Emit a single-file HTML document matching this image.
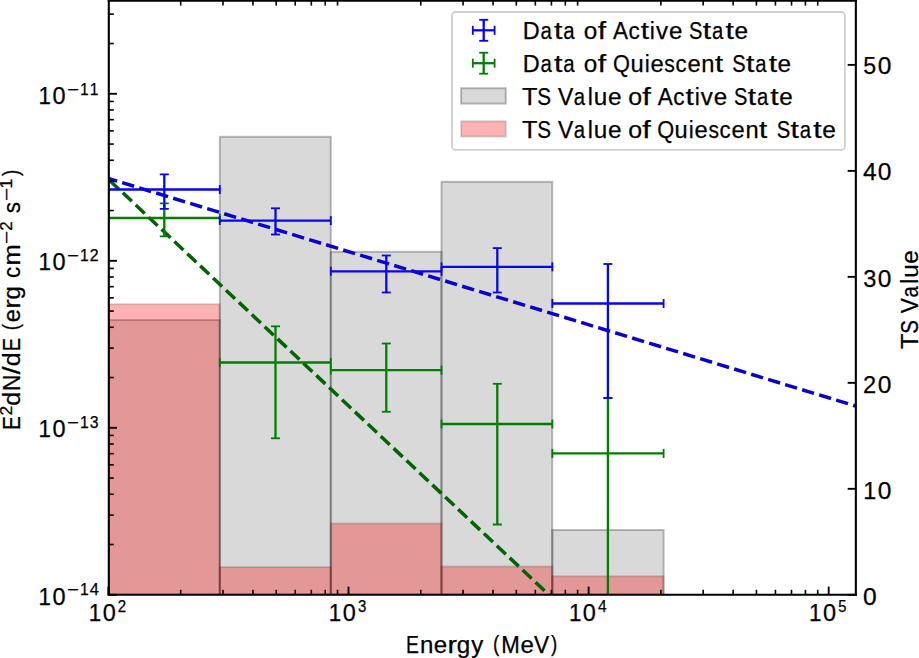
<!DOCTYPE html>
<html><head><meta charset="utf-8"><title>SED and TS values</title>
<style>html,body{margin:0;padding:0;background:#fff;}svg{display:block;}text{font-family:"Liberation Sans", sans-serif;fill:#000;font-kerning:none;stroke:#000;stroke-width:0.25px;}</style></head><body>
<svg width="919" height="658" viewBox="0 0 919 658">
<rect x="0" y="0" width="919" height="658" fill="#ffffff"/>
<defs><clipPath id="ax"><rect x="108.80" y="0" width="747.05" height="594.80"/></clipPath></defs>
<g clip-path="url(#ax)">
<rect x="108.60" y="320.00" width="111.20" height="274.80" fill="rgb(128,128,128)" fill-opacity="0.3" stroke="#000" stroke-opacity="0.25" stroke-width="2.0"/>
<rect x="219.80" y="136.80" width="111.00" height="458.00" fill="rgb(128,128,128)" fill-opacity="0.3" stroke="#000" stroke-opacity="0.25" stroke-width="2.0"/>
<rect x="330.80" y="251.80" width="110.70" height="343.00" fill="rgb(128,128,128)" fill-opacity="0.3" stroke="#000" stroke-opacity="0.25" stroke-width="2.0"/>
<rect x="441.50" y="181.80" width="110.80" height="413.00" fill="rgb(128,128,128)" fill-opacity="0.3" stroke="#000" stroke-opacity="0.25" stroke-width="2.0"/>
<rect x="552.30" y="530.00" width="111.30" height="64.80" fill="rgb(128,128,128)" fill-opacity="0.3" stroke="#000" stroke-opacity="0.25" stroke-width="2.0"/>
<rect x="108.60" y="304.20" width="111.20" height="290.60" fill="rgb(255,0,0)" fill-opacity="0.3" stroke="#000" stroke-opacity="0.15" stroke-width="2.0"/>
<rect x="219.80" y="567.00" width="111.00" height="27.80" fill="rgb(255,0,0)" fill-opacity="0.3" stroke="#000" stroke-opacity="0.15" stroke-width="2.0"/>
<rect x="330.80" y="523.50" width="110.70" height="71.30" fill="rgb(255,0,0)" fill-opacity="0.3" stroke="#000" stroke-opacity="0.15" stroke-width="2.0"/>
<rect x="441.50" y="566.50" width="110.80" height="28.30" fill="rgb(255,0,0)" fill-opacity="0.3" stroke="#000" stroke-opacity="0.15" stroke-width="2.0"/>
<rect x="552.30" y="576.20" width="111.30" height="18.60" fill="rgb(255,0,0)" fill-opacity="0.3" stroke="#000" stroke-opacity="0.15" stroke-width="2.0"/>
</g>
<g clip-path="url(#ax)" fill="none">
<line x1="105.20" y1="177.50" x2="870.00" y2="410.39" stroke="#0a00cd" stroke-width="3.50" stroke-dasharray="12.4 5.37"/>
<line x1="109.00" y1="179.79" x2="565.00" y2="610.02" stroke="#006400" stroke-width="3.50" stroke-dasharray="12.38 5.35" stroke-dashoffset="-1.3"/>
</g>
<g clip-path="url(#ax)">
<g stroke="#007e00" fill="none" stroke-linecap="butt"><line x1="108.60" y1="218.00" x2="219.80" y2="218.00" stroke-width="2.30"/><line x1="164.30" y1="203.30" x2="164.30" y2="236.30" stroke-width="2.30"/><line x1="108.60" y1="213.50" x2="108.60" y2="222.50" stroke-width="1.80"/><line x1="219.80" y1="213.50" x2="219.80" y2="222.50" stroke-width="1.80"/><line x1="159.80" y1="203.30" x2="168.80" y2="203.30" stroke-width="1.80"/><line x1="159.80" y1="236.30" x2="168.80" y2="236.30" stroke-width="1.80"/></g>
<g stroke="#007e00" fill="none" stroke-linecap="butt"><line x1="219.80" y1="362.50" x2="330.80" y2="362.50" stroke-width="2.30"/><line x1="275.50" y1="326.30" x2="275.50" y2="438.30" stroke-width="2.30"/><line x1="219.80" y1="358.00" x2="219.80" y2="367.00" stroke-width="1.80"/><line x1="330.80" y1="358.00" x2="330.80" y2="367.00" stroke-width="1.80"/><line x1="271.00" y1="326.30" x2="280.00" y2="326.30" stroke-width="1.80"/><line x1="271.00" y1="438.30" x2="280.00" y2="438.30" stroke-width="1.80"/></g>
<g stroke="#007e00" fill="none" stroke-linecap="butt"><line x1="330.80" y1="370.20" x2="441.50" y2="370.20" stroke-width="2.30"/><line x1="386.30" y1="343.50" x2="386.30" y2="411.80" stroke-width="2.30"/><line x1="330.80" y1="365.70" x2="330.80" y2="374.70" stroke-width="1.80"/><line x1="441.50" y1="365.70" x2="441.50" y2="374.70" stroke-width="1.80"/><line x1="381.80" y1="343.50" x2="390.80" y2="343.50" stroke-width="1.80"/><line x1="381.80" y1="411.80" x2="390.80" y2="411.80" stroke-width="1.80"/></g>
<g stroke="#007e00" fill="none" stroke-linecap="butt"><line x1="441.50" y1="424.00" x2="552.30" y2="424.00" stroke-width="2.30"/><line x1="497.30" y1="383.80" x2="497.30" y2="524.50" stroke-width="2.30"/><line x1="441.50" y1="419.50" x2="441.50" y2="428.50" stroke-width="1.80"/><line x1="552.30" y1="419.50" x2="552.30" y2="428.50" stroke-width="1.80"/><line x1="492.80" y1="383.80" x2="501.80" y2="383.80" stroke-width="1.80"/><line x1="492.80" y1="524.50" x2="501.80" y2="524.50" stroke-width="1.80"/></g>
<g stroke="#007e00" fill="none" stroke-linecap="butt"><line x1="552.30" y1="453.40" x2="663.60" y2="453.40" stroke-width="2.30"/><line x1="607.90" y1="398.00" x2="607.90" y2="640.00" stroke-width="2.30"/><line x1="552.30" y1="448.90" x2="552.30" y2="457.90" stroke-width="1.80"/><line x1="663.60" y1="448.90" x2="663.60" y2="457.90" stroke-width="1.80"/><line x1="603.40" y1="398.00" x2="612.40" y2="398.00" stroke-width="1.80"/><line x1="603.40" y1="640.00" x2="612.40" y2="640.00" stroke-width="1.80"/></g>
<g stroke="#0606f2" fill="none" stroke-linecap="butt"><line x1="108.60" y1="189.50" x2="219.80" y2="189.50" stroke-width="2.30"/><line x1="164.30" y1="174.30" x2="164.30" y2="208.80" stroke-width="2.30"/><line x1="108.60" y1="185.00" x2="108.60" y2="194.00" stroke-width="1.80"/><line x1="219.80" y1="185.00" x2="219.80" y2="194.00" stroke-width="1.80"/><line x1="159.80" y1="174.30" x2="168.80" y2="174.30" stroke-width="1.80"/><line x1="159.80" y1="208.80" x2="168.80" y2="208.80" stroke-width="1.80"/></g>
<g stroke="#0606f2" fill="none" stroke-linecap="butt"><line x1="219.80" y1="220.60" x2="330.80" y2="220.60" stroke-width="2.30"/><line x1="275.50" y1="208.30" x2="275.50" y2="234.50" stroke-width="2.30"/><line x1="219.80" y1="216.10" x2="219.80" y2="225.10" stroke-width="1.80"/><line x1="330.80" y1="216.10" x2="330.80" y2="225.10" stroke-width="1.80"/><line x1="271.00" y1="208.30" x2="280.00" y2="208.30" stroke-width="1.80"/><line x1="271.00" y1="234.50" x2="280.00" y2="234.50" stroke-width="1.80"/></g>
<g stroke="#0606f2" fill="none" stroke-linecap="butt"><line x1="330.80" y1="271.30" x2="441.50" y2="271.30" stroke-width="2.30"/><line x1="386.30" y1="255.50" x2="386.30" y2="292.50" stroke-width="2.30"/><line x1="330.80" y1="266.80" x2="330.80" y2="275.80" stroke-width="1.80"/><line x1="441.50" y1="266.80" x2="441.50" y2="275.80" stroke-width="1.80"/><line x1="381.80" y1="255.50" x2="390.80" y2="255.50" stroke-width="1.80"/><line x1="381.80" y1="292.50" x2="390.80" y2="292.50" stroke-width="1.80"/></g>
<g stroke="#0606f2" fill="none" stroke-linecap="butt"><line x1="441.50" y1="266.80" x2="552.30" y2="266.80" stroke-width="2.30"/><line x1="497.30" y1="248.10" x2="497.30" y2="292.50" stroke-width="2.30"/><line x1="441.50" y1="262.30" x2="441.50" y2="271.30" stroke-width="1.80"/><line x1="552.30" y1="262.30" x2="552.30" y2="271.30" stroke-width="1.80"/><line x1="492.80" y1="248.10" x2="501.80" y2="248.10" stroke-width="1.80"/><line x1="492.80" y1="292.50" x2="501.80" y2="292.50" stroke-width="1.80"/></g>
<g stroke="#0606f2" fill="none" stroke-linecap="butt"><line x1="552.30" y1="303.50" x2="663.60" y2="303.50" stroke-width="2.30"/><line x1="607.90" y1="264.00" x2="607.90" y2="398.00" stroke-width="2.30"/><line x1="552.30" y1="299.00" x2="552.30" y2="308.00" stroke-width="1.80"/><line x1="663.60" y1="299.00" x2="663.60" y2="308.00" stroke-width="1.80"/><line x1="603.40" y1="264.00" x2="612.40" y2="264.00" stroke-width="1.80"/><line x1="603.40" y1="398.00" x2="612.40" y2="398.00" stroke-width="1.80"/></g>
</g>
<g stroke="#000" fill="none">
<line x1="108.40" y1="594.80" x2="108.40" y2="586.60" stroke-width="1.90"/>
<line x1="180.68" y1="594.80" x2="180.68" y2="589.80" stroke-width="1.60"/>
<line x1="180.68" y1="0.60" x2="180.68" y2="5.60" stroke-width="1.60"/>
<line x1="222.96" y1="594.80" x2="222.96" y2="589.80" stroke-width="1.60"/>
<line x1="222.96" y1="0.60" x2="222.96" y2="5.60" stroke-width="1.60"/>
<line x1="252.95" y1="594.80" x2="252.95" y2="589.80" stroke-width="1.60"/>
<line x1="252.95" y1="0.60" x2="252.95" y2="5.60" stroke-width="1.60"/>
<line x1="276.22" y1="594.80" x2="276.22" y2="589.80" stroke-width="1.60"/>
<line x1="276.22" y1="0.60" x2="276.22" y2="5.60" stroke-width="1.60"/>
<line x1="295.23" y1="594.80" x2="295.23" y2="589.80" stroke-width="1.60"/>
<line x1="295.23" y1="0.60" x2="295.23" y2="5.60" stroke-width="1.60"/>
<line x1="311.31" y1="594.80" x2="311.31" y2="589.80" stroke-width="1.60"/>
<line x1="311.31" y1="0.60" x2="311.31" y2="5.60" stroke-width="1.60"/>
<line x1="325.23" y1="594.80" x2="325.23" y2="589.80" stroke-width="1.60"/>
<line x1="325.23" y1="0.60" x2="325.23" y2="5.60" stroke-width="1.60"/>
<line x1="337.51" y1="594.80" x2="337.51" y2="589.80" stroke-width="1.60"/>
<line x1="337.51" y1="0.60" x2="337.51" y2="5.60" stroke-width="1.60"/>
<line x1="348.50" y1="594.80" x2="348.50" y2="586.60" stroke-width="1.90"/>
<line x1="420.78" y1="594.80" x2="420.78" y2="589.80" stroke-width="1.60"/>
<line x1="420.78" y1="0.60" x2="420.78" y2="5.60" stroke-width="1.60"/>
<line x1="463.06" y1="594.80" x2="463.06" y2="589.80" stroke-width="1.60"/>
<line x1="463.06" y1="0.60" x2="463.06" y2="5.60" stroke-width="1.60"/>
<line x1="493.05" y1="594.80" x2="493.05" y2="589.80" stroke-width="1.60"/>
<line x1="493.05" y1="0.60" x2="493.05" y2="5.60" stroke-width="1.60"/>
<line x1="516.32" y1="594.80" x2="516.32" y2="589.80" stroke-width="1.60"/>
<line x1="516.32" y1="0.60" x2="516.32" y2="5.60" stroke-width="1.60"/>
<line x1="535.33" y1="594.80" x2="535.33" y2="589.80" stroke-width="1.60"/>
<line x1="535.33" y1="0.60" x2="535.33" y2="5.60" stroke-width="1.60"/>
<line x1="551.41" y1="594.80" x2="551.41" y2="589.80" stroke-width="1.60"/>
<line x1="551.41" y1="0.60" x2="551.41" y2="5.60" stroke-width="1.60"/>
<line x1="565.33" y1="594.80" x2="565.33" y2="589.80" stroke-width="1.60"/>
<line x1="565.33" y1="0.60" x2="565.33" y2="5.60" stroke-width="1.60"/>
<line x1="577.61" y1="594.80" x2="577.61" y2="589.80" stroke-width="1.60"/>
<line x1="577.61" y1="0.60" x2="577.61" y2="5.60" stroke-width="1.60"/>
<line x1="588.60" y1="594.80" x2="588.60" y2="586.60" stroke-width="1.90"/>
<line x1="660.88" y1="594.80" x2="660.88" y2="589.80" stroke-width="1.60"/>
<line x1="660.88" y1="0.60" x2="660.88" y2="5.60" stroke-width="1.60"/>
<line x1="703.16" y1="594.80" x2="703.16" y2="589.80" stroke-width="1.60"/>
<line x1="703.16" y1="0.60" x2="703.16" y2="5.60" stroke-width="1.60"/>
<line x1="733.15" y1="594.80" x2="733.15" y2="589.80" stroke-width="1.60"/>
<line x1="733.15" y1="0.60" x2="733.15" y2="5.60" stroke-width="1.60"/>
<line x1="756.42" y1="594.80" x2="756.42" y2="589.80" stroke-width="1.60"/>
<line x1="756.42" y1="0.60" x2="756.42" y2="5.60" stroke-width="1.60"/>
<line x1="775.43" y1="594.80" x2="775.43" y2="589.80" stroke-width="1.60"/>
<line x1="775.43" y1="0.60" x2="775.43" y2="5.60" stroke-width="1.60"/>
<line x1="791.51" y1="594.80" x2="791.51" y2="589.80" stroke-width="1.60"/>
<line x1="791.51" y1="0.60" x2="791.51" y2="5.60" stroke-width="1.60"/>
<line x1="805.43" y1="594.80" x2="805.43" y2="589.80" stroke-width="1.60"/>
<line x1="805.43" y1="0.60" x2="805.43" y2="5.60" stroke-width="1.60"/>
<line x1="817.71" y1="594.80" x2="817.71" y2="589.80" stroke-width="1.60"/>
<line x1="817.71" y1="0.60" x2="817.71" y2="5.60" stroke-width="1.60"/>
<line x1="828.70" y1="594.80" x2="828.70" y2="586.60" stroke-width="1.90"/>
<line x1="108.80" y1="594.80" x2="117.00" y2="594.80" stroke-width="1.90"/>
<line x1="108.80" y1="544.53" x2="113.80" y2="544.53" stroke-width="1.60"/>
<line x1="108.80" y1="515.12" x2="113.80" y2="515.12" stroke-width="1.60"/>
<line x1="108.80" y1="494.26" x2="113.80" y2="494.26" stroke-width="1.60"/>
<line x1="108.80" y1="478.07" x2="113.80" y2="478.07" stroke-width="1.60"/>
<line x1="108.80" y1="464.85" x2="113.80" y2="464.85" stroke-width="1.60"/>
<line x1="108.80" y1="453.67" x2="113.80" y2="453.67" stroke-width="1.60"/>
<line x1="108.80" y1="443.98" x2="113.80" y2="443.98" stroke-width="1.60"/>
<line x1="108.80" y1="435.44" x2="113.80" y2="435.44" stroke-width="1.60"/>
<line x1="108.80" y1="427.80" x2="117.00" y2="427.80" stroke-width="1.90"/>
<line x1="108.80" y1="377.53" x2="113.80" y2="377.53" stroke-width="1.60"/>
<line x1="108.80" y1="348.12" x2="113.80" y2="348.12" stroke-width="1.60"/>
<line x1="108.80" y1="327.26" x2="113.80" y2="327.26" stroke-width="1.60"/>
<line x1="108.80" y1="311.07" x2="113.80" y2="311.07" stroke-width="1.60"/>
<line x1="108.80" y1="297.85" x2="113.80" y2="297.85" stroke-width="1.60"/>
<line x1="108.80" y1="286.67" x2="113.80" y2="286.67" stroke-width="1.60"/>
<line x1="108.80" y1="276.98" x2="113.80" y2="276.98" stroke-width="1.60"/>
<line x1="108.80" y1="268.44" x2="113.80" y2="268.44" stroke-width="1.60"/>
<line x1="108.80" y1="260.80" x2="117.00" y2="260.80" stroke-width="1.90"/>
<line x1="108.80" y1="210.53" x2="113.80" y2="210.53" stroke-width="1.60"/>
<line x1="108.80" y1="181.12" x2="113.80" y2="181.12" stroke-width="1.60"/>
<line x1="108.80" y1="160.26" x2="113.80" y2="160.26" stroke-width="1.60"/>
<line x1="108.80" y1="144.07" x2="113.80" y2="144.07" stroke-width="1.60"/>
<line x1="108.80" y1="130.85" x2="113.80" y2="130.85" stroke-width="1.60"/>
<line x1="108.80" y1="119.67" x2="113.80" y2="119.67" stroke-width="1.60"/>
<line x1="108.80" y1="109.98" x2="113.80" y2="109.98" stroke-width="1.60"/>
<line x1="108.80" y1="101.44" x2="113.80" y2="101.44" stroke-width="1.60"/>
<line x1="108.80" y1="93.80" x2="117.00" y2="93.80" stroke-width="1.90"/>
<line x1="108.80" y1="43.53" x2="113.80" y2="43.53" stroke-width="1.60"/>
<line x1="108.80" y1="14.12" x2="113.80" y2="14.12" stroke-width="1.60"/>
<line x1="855.85" y1="594.80" x2="847.65" y2="594.80" stroke-width="1.90"/>
<line x1="855.85" y1="488.82" x2="847.65" y2="488.82" stroke-width="1.90"/>
<line x1="855.85" y1="382.84" x2="847.65" y2="382.84" stroke-width="1.90"/>
<line x1="855.85" y1="276.86" x2="847.65" y2="276.86" stroke-width="1.90"/>
<line x1="855.85" y1="170.88" x2="847.65" y2="170.88" stroke-width="1.90"/>
<line x1="855.85" y1="64.90" x2="847.65" y2="64.90" stroke-width="1.90"/>
</g>
<g stroke="#000" stroke-width="2.10" fill="none" stroke-linecap="square">
<line x1="108.80" y1="0.60" x2="108.80" y2="594.80"/>
<line x1="855.85" y1="0.60" x2="855.85" y2="594.80"/>
<line x1="108.80" y1="594.80" x2="855.85" y2="594.80"/>
<line x1="108.80" y1="0.60" x2="855.85" y2="0.60"/>
</g>
<text x="88.69" y="620.60" font-size="23.50" text-anchor="start" textLength="12.45" lengthAdjust="spacingAndGlyphs">1</text><text x="102.65" y="620.60" font-size="23.50" text-anchor="start" textLength="13.04" lengthAdjust="spacingAndGlyphs">0</text>
<text x="117.78" y="611.60" font-size="15.90" text-anchor="start" textLength="8.35" lengthAdjust="spacingAndGlyphs">2</text>
<text x="328.79" y="620.60" font-size="23.50" text-anchor="start" textLength="12.45" lengthAdjust="spacingAndGlyphs">1</text><text x="342.75" y="620.60" font-size="23.50" text-anchor="start" textLength="13.04" lengthAdjust="spacingAndGlyphs">0</text>
<text x="358.11" y="611.60" font-size="15.90" text-anchor="start" textLength="8.32" lengthAdjust="spacingAndGlyphs">3</text>
<text x="568.89" y="620.60" font-size="23.50" text-anchor="start" textLength="12.45" lengthAdjust="spacingAndGlyphs">1</text><text x="582.85" y="620.60" font-size="23.50" text-anchor="start" textLength="13.04" lengthAdjust="spacingAndGlyphs">0</text>
<text x="598.01" y="611.60" font-size="15.90" text-anchor="start" textLength="8.66" lengthAdjust="spacingAndGlyphs">4</text>
<text x="808.99" y="620.60" font-size="23.50" text-anchor="start" textLength="12.45" lengthAdjust="spacingAndGlyphs">1</text><text x="822.95" y="620.60" font-size="23.50" text-anchor="start" textLength="13.04" lengthAdjust="spacingAndGlyphs">0</text>
<text x="838.30" y="611.60" font-size="15.90" text-anchor="start" textLength="8.17" lengthAdjust="spacingAndGlyphs">5</text>
<text x="38.59" y="604.70" font-size="23.50" text-anchor="start" textLength="12.48" lengthAdjust="spacingAndGlyphs">1</text><text x="52.58" y="604.70" font-size="23.50" text-anchor="start" textLength="13.06" lengthAdjust="spacingAndGlyphs">0</text>
<text x="66.96" y="595.40" font-size="15.90" text-anchor="start" textLength="11.73" lengthAdjust="spacingAndGlyphs">−</text><text x="79.88" y="595.40" font-size="15.90" text-anchor="start" textLength="8.73" lengthAdjust="spacingAndGlyphs">1</text><text x="89.67" y="595.40" font-size="15.90" text-anchor="start" textLength="9.14" lengthAdjust="spacingAndGlyphs">4</text>
<text x="38.59" y="437.00" font-size="23.50" text-anchor="start" textLength="12.48" lengthAdjust="spacingAndGlyphs">1</text><text x="52.58" y="437.00" font-size="23.50" text-anchor="start" textLength="13.06" lengthAdjust="spacingAndGlyphs">0</text>
<text x="66.96" y="427.70" font-size="15.90" text-anchor="start" textLength="11.73" lengthAdjust="spacingAndGlyphs">−</text><text x="79.88" y="427.70" font-size="15.90" text-anchor="start" textLength="8.73" lengthAdjust="spacingAndGlyphs">1</text><text x="89.87" y="427.70" font-size="15.90" text-anchor="start" textLength="8.78" lengthAdjust="spacingAndGlyphs">3</text>
<text x="38.59" y="270.00" font-size="23.50" text-anchor="start" textLength="12.48" lengthAdjust="spacingAndGlyphs">1</text><text x="52.58" y="270.00" font-size="23.50" text-anchor="start" textLength="13.06" lengthAdjust="spacingAndGlyphs">0</text>
<text x="66.96" y="260.70" font-size="15.90" text-anchor="start" textLength="11.73" lengthAdjust="spacingAndGlyphs">−</text><text x="79.88" y="260.70" font-size="15.90" text-anchor="start" textLength="8.73" lengthAdjust="spacingAndGlyphs">1</text><text x="89.63" y="260.70" font-size="15.90" text-anchor="start" textLength="8.81" lengthAdjust="spacingAndGlyphs">2</text>
<text x="38.59" y="104.20" font-size="23.50" text-anchor="start" textLength="12.48" lengthAdjust="spacingAndGlyphs">1</text><text x="52.58" y="104.20" font-size="23.50" text-anchor="start" textLength="13.06" lengthAdjust="spacingAndGlyphs">0</text>
<text x="66.96" y="94.90" font-size="15.90" text-anchor="start" textLength="11.73" lengthAdjust="spacingAndGlyphs">−</text><text x="79.88" y="94.90" font-size="15.90" text-anchor="start" textLength="8.73" lengthAdjust="spacingAndGlyphs">1</text><text x="89.80" y="94.90" font-size="15.90" text-anchor="start" textLength="8.73" lengthAdjust="spacingAndGlyphs">1</text>
<text x="862.98" y="604.80" font-size="23.50" text-anchor="start" textLength="13.64" lengthAdjust="spacingAndGlyphs">0</text>
<text x="863.17" y="499.02" font-size="23.50" text-anchor="start" textLength="13.03" lengthAdjust="spacingAndGlyphs">1</text><text x="877.78" y="499.02" font-size="23.50" text-anchor="start" textLength="13.64" lengthAdjust="spacingAndGlyphs">0</text>
<text x="862.92" y="392.54" font-size="23.50" text-anchor="start" textLength="13.15" lengthAdjust="spacingAndGlyphs">2</text><text x="877.78" y="392.54" font-size="23.50" text-anchor="start" textLength="13.64" lengthAdjust="spacingAndGlyphs">0</text>
<text x="863.28" y="287.16" font-size="23.50" text-anchor="start" textLength="13.10" lengthAdjust="spacingAndGlyphs">3</text><text x="877.78" y="287.16" font-size="23.50" text-anchor="start" textLength="13.64" lengthAdjust="spacingAndGlyphs">0</text>
<text x="862.97" y="179.98" font-size="23.50" text-anchor="start" textLength="13.64" lengthAdjust="spacingAndGlyphs">4</text><text x="877.78" y="179.98" font-size="23.50" text-anchor="start" textLength="13.64" lengthAdjust="spacingAndGlyphs">0</text>
<text x="863.27" y="73.80" font-size="23.50" text-anchor="start" textLength="12.87" lengthAdjust="spacingAndGlyphs">5</text><text x="877.78" y="73.80" font-size="23.50" text-anchor="start" textLength="13.64" lengthAdjust="spacingAndGlyphs">0</text>
<text x="406.01" y="652.80" font-size="23.50" text-anchor="start" textLength="12.91" lengthAdjust="spacingAndGlyphs">E</text><text x="419.94" y="652.80" font-size="23.50" text-anchor="start" textLength="13.39" lengthAdjust="spacingAndGlyphs">n</text><text x="433.87" y="652.80" font-size="23.50" text-anchor="start" textLength="13.41" lengthAdjust="spacingAndGlyphs">e</text><text x="447.53" y="652.80" font-size="23.50" text-anchor="start" textLength="9.53" lengthAdjust="spacingAndGlyphs">r</text><text x="456.79" y="652.80" font-size="23.50" text-anchor="start" textLength="13.50" lengthAdjust="spacingAndGlyphs">g</text><text x="471.36" y="652.80" font-size="23.50" text-anchor="start" textLength="11.99" lengthAdjust="spacingAndGlyphs">y</text>
<text x="493.03" y="651.34" font-size="21.31" text-anchor="start" textLength="6.28" lengthAdjust="spacingAndGlyphs">(</text><text x="501.35" y="652.80" font-size="23.50" text-anchor="start" textLength="18.53" lengthAdjust="spacingAndGlyphs">M</text><text x="520.44" y="652.80" font-size="23.50" text-anchor="start" textLength="13.40" lengthAdjust="spacingAndGlyphs">e</text><text x="534.03" y="652.80" font-size="23.50" text-anchor="start" textLength="15.10" lengthAdjust="spacingAndGlyphs">V</text><text x="550.89" y="651.34" font-size="21.31" text-anchor="start" textLength="6.28" lengthAdjust="spacingAndGlyphs">)</text>
<g transform="translate(918.0,348.6) rotate(-90)"><text x="-0.36" y="0.00" font-size="23.50" text-anchor="start" textLength="15.36" lengthAdjust="spacingAndGlyphs">T</text><text x="14.94" y="0.00" font-size="23.50" text-anchor="start" textLength="13.71" lengthAdjust="spacingAndGlyphs">S</text><text x="35.30" y="0.00" font-size="23.50" text-anchor="start" textLength="15.17" lengthAdjust="spacingAndGlyphs">V</text><text x="51.04" y="0.00" font-size="23.50" text-anchor="start" textLength="11.21" lengthAdjust="spacingAndGlyphs">a</text><text x="64.85" y="0.00" font-size="23.50" text-anchor="start" textLength="5.09" lengthAdjust="spacingAndGlyphs">l</text><text x="70.84" y="0.00" font-size="23.50" text-anchor="start" textLength="13.43" lengthAdjust="spacingAndGlyphs">u</text><text x="84.92" y="0.00" font-size="23.50" text-anchor="start" textLength="13.46" lengthAdjust="spacingAndGlyphs">e</text></g>
<g transform="translate(19.8,428.2) rotate(-90)">
<text x="-1.71" y="0.00" font-size="23.50" text-anchor="start" textLength="13.91" lengthAdjust="spacingAndGlyphs">E</text>
<text x="12.72" y="-8.10" font-size="15.90" text-anchor="start" textLength="9.77" lengthAdjust="spacingAndGlyphs">2</text>
<text x="22.35" y="0.00" font-size="23.50" text-anchor="start" textLength="13.89" lengthAdjust="spacingAndGlyphs">d</text><text x="37.11" y="0.00" font-size="23.50" text-anchor="start" textLength="16.40" lengthAdjust="spacingAndGlyphs">N</text><text x="53.91" y="0.00" font-size="23.50" text-anchor="start" textLength="7.74" lengthAdjust="spacingAndGlyphs">/</text><text x="61.88" y="0.00" font-size="23.50" text-anchor="start" textLength="13.89" lengthAdjust="spacingAndGlyphs">d</text><text x="76.87" y="0.00" font-size="23.50" text-anchor="start" textLength="13.29" lengthAdjust="spacingAndGlyphs">E</text>
<text x="98.05" y="-1.46" font-size="21.31" text-anchor="start" textLength="6.17" lengthAdjust="spacingAndGlyphs">(</text><text x="106.07" y="0.00" font-size="23.50" text-anchor="start" textLength="13.17" lengthAdjust="spacingAndGlyphs">e</text><text x="119.49" y="0.00" font-size="23.50" text-anchor="start" textLength="9.35" lengthAdjust="spacingAndGlyphs">r</text><text x="128.58" y="0.00" font-size="23.50" text-anchor="start" textLength="13.25" lengthAdjust="spacingAndGlyphs">g</text>
<text x="150.25" y="0.00" font-size="23.50" text-anchor="start" textLength="11.20" lengthAdjust="spacingAndGlyphs">c</text><text x="162.58" y="0.00" font-size="23.50" text-anchor="start" textLength="21.19" lengthAdjust="spacingAndGlyphs">m</text>
<text x="184.20" y="-8.10" font-size="15.90" text-anchor="start" textLength="12.98" lengthAdjust="spacingAndGlyphs">−</text>
<text x="197.35" y="-8.10" font-size="15.90" text-anchor="start" textLength="9.40" lengthAdjust="spacingAndGlyphs">2</text>
<text x="214.97" y="0.00" font-size="23.50" text-anchor="start" textLength="11.24" lengthAdjust="spacingAndGlyphs">s</text>
<text x="226.88" y="-8.10" font-size="15.90" text-anchor="start" textLength="13.22" lengthAdjust="spacingAndGlyphs">−</text>
<text x="239.66" y="-8.10" font-size="15.90" text-anchor="start" textLength="9.80" lengthAdjust="spacingAndGlyphs">1</text>
<text x="252.09" y="-1.46" font-size="21.31" text-anchor="start" textLength="6.28" lengthAdjust="spacingAndGlyphs">)</text>
</g>
<rect x="452.0" y="12.0" width="392.9" height="137.8" rx="3.6" ry="3.6" fill="#fff" fill-opacity="0.8" stroke="#cfcfcf" stroke-width="1.8"/>
<g stroke="#0606f2" fill="none"><line x1="472.80" y1="30.30" x2="494.60" y2="30.30" stroke-width="2.30"/><line x1="483.70" y1="19.80" x2="483.70" y2="40.80" stroke-width="2.30"/><line x1="472.80" y1="25.80" x2="472.80" y2="34.80" stroke-width="1.80"/><line x1="494.60" y1="25.80" x2="494.60" y2="34.80" stroke-width="1.80"/><line x1="479.20" y1="19.80" x2="488.20" y2="19.80" stroke-width="1.80"/><line x1="479.20" y1="40.80" x2="488.20" y2="40.80" stroke-width="1.80"/></g>
<g stroke="#007e00" fill="none"><line x1="472.80" y1="63.20" x2="494.60" y2="63.20" stroke-width="2.30"/><line x1="483.70" y1="52.70" x2="483.70" y2="73.70" stroke-width="2.30"/><line x1="472.80" y1="58.70" x2="472.80" y2="67.70" stroke-width="1.80"/><line x1="494.60" y1="58.70" x2="494.60" y2="67.70" stroke-width="1.80"/><line x1="479.20" y1="52.70" x2="488.20" y2="52.70" stroke-width="1.80"/><line x1="479.20" y1="73.70" x2="488.20" y2="73.70" stroke-width="1.80"/></g>
<rect x="461.1" y="88.2" width="44.7" height="15.4" fill="rgb(128,128,128)" fill-opacity="0.3" stroke="#000" stroke-opacity="0.25" stroke-width="2.0"/>
<rect x="461.1" y="121.2" width="44.7" height="15.4" fill="rgb(255,0,0)" fill-opacity="0.3" stroke="#000" stroke-opacity="0.15" stroke-width="2.0"/>
<text x="522.87" y="38.70" font-size="23.50" text-anchor="start" textLength="16.96" lengthAdjust="spacingAndGlyphs">D</text><text x="540.54" y="38.70" font-size="23.50" text-anchor="start" textLength="11.35" lengthAdjust="spacingAndGlyphs">a</text><text x="554.11" y="38.70" font-size="23.50" text-anchor="start" textLength="8.43" lengthAdjust="spacingAndGlyphs">t</text><text x="563.35" y="38.70" font-size="23.50" text-anchor="start" textLength="11.35" lengthAdjust="spacingAndGlyphs">a</text>
<text x="583.88" y="38.70" font-size="23.50" text-anchor="start" textLength="13.51" lengthAdjust="spacingAndGlyphs">o</text><text x="597.72" y="38.70" font-size="23.50" text-anchor="start" textLength="8.34" lengthAdjust="spacingAndGlyphs">f</text>
<text x="613.06" y="38.70" font-size="23.50" text-anchor="start" textLength="15.03" lengthAdjust="spacingAndGlyphs">A</text><text x="628.50" y="38.70" font-size="23.50" text-anchor="start" textLength="11.22" lengthAdjust="spacingAndGlyphs">c</text><text x="640.67" y="38.70" font-size="23.50" text-anchor="start" textLength="8.30" lengthAdjust="spacingAndGlyphs">t</text><text x="649.86" y="38.70" font-size="23.50" text-anchor="start" textLength="5.08" lengthAdjust="spacingAndGlyphs">i</text><text x="656.08" y="38.70" font-size="23.50" text-anchor="start" textLength="12.07" lengthAdjust="spacingAndGlyphs">v</text><text x="668.94" y="38.70" font-size="23.50" text-anchor="start" textLength="13.43" lengthAdjust="spacingAndGlyphs">e</text>
<text x="688.99" y="38.70" font-size="23.50" text-anchor="start" textLength="13.41" lengthAdjust="spacingAndGlyphs">S</text><text x="702.88" y="38.70" font-size="23.50" text-anchor="start" textLength="8.37" lengthAdjust="spacingAndGlyphs">t</text><text x="712.06" y="38.70" font-size="23.50" text-anchor="start" textLength="11.28" lengthAdjust="spacingAndGlyphs">a</text><text x="725.54" y="38.70" font-size="23.50" text-anchor="start" textLength="8.37" lengthAdjust="spacingAndGlyphs">t</text><text x="734.44" y="38.70" font-size="23.50" text-anchor="start" textLength="13.55" lengthAdjust="spacingAndGlyphs">e</text>
<text x="522.87" y="71.70" font-size="23.50" text-anchor="start" textLength="16.96" lengthAdjust="spacingAndGlyphs">D</text><text x="540.54" y="71.70" font-size="23.50" text-anchor="start" textLength="11.35" lengthAdjust="spacingAndGlyphs">a</text><text x="554.11" y="71.70" font-size="23.50" text-anchor="start" textLength="8.43" lengthAdjust="spacingAndGlyphs">t</text><text x="563.35" y="71.70" font-size="23.50" text-anchor="start" textLength="11.35" lengthAdjust="spacingAndGlyphs">a</text>
<text x="583.88" y="71.70" font-size="23.50" text-anchor="start" textLength="13.51" lengthAdjust="spacingAndGlyphs">o</text><text x="597.72" y="71.70" font-size="23.50" text-anchor="start" textLength="8.34" lengthAdjust="spacingAndGlyphs">f</text>
<text x="612.97" y="71.70" font-size="23.50" text-anchor="start" textLength="16.95" lengthAdjust="spacingAndGlyphs">Q</text><text x="630.44" y="71.70" font-size="23.50" text-anchor="start" textLength="13.22" lengthAdjust="spacingAndGlyphs">u</text><text x="644.65" y="71.70" font-size="23.50" text-anchor="start" textLength="5.01" lengthAdjust="spacingAndGlyphs">i</text><text x="650.41" y="71.70" font-size="23.50" text-anchor="start" textLength="13.24" lengthAdjust="spacingAndGlyphs">e</text><text x="664.37" y="71.70" font-size="23.50" text-anchor="start" textLength="10.56" lengthAdjust="spacingAndGlyphs">s</text><text x="675.52" y="71.70" font-size="23.50" text-anchor="start" textLength="11.06" lengthAdjust="spacingAndGlyphs">c</text><text x="687.56" y="71.70" font-size="23.50" text-anchor="start" textLength="13.24" lengthAdjust="spacingAndGlyphs">e</text><text x="701.34" y="71.70" font-size="23.50" text-anchor="start" textLength="13.22" lengthAdjust="spacingAndGlyphs">n</text><text x="715.03" y="71.70" font-size="23.50" text-anchor="start" textLength="8.18" lengthAdjust="spacingAndGlyphs">t</text>
<text x="732.19" y="71.70" font-size="23.50" text-anchor="start" textLength="13.41" lengthAdjust="spacingAndGlyphs">S</text><text x="746.08" y="71.70" font-size="23.50" text-anchor="start" textLength="8.37" lengthAdjust="spacingAndGlyphs">t</text><text x="755.26" y="71.70" font-size="23.50" text-anchor="start" textLength="11.28" lengthAdjust="spacingAndGlyphs">a</text><text x="768.74" y="71.70" font-size="23.50" text-anchor="start" textLength="8.37" lengthAdjust="spacingAndGlyphs">t</text><text x="777.64" y="71.70" font-size="23.50" text-anchor="start" textLength="13.55" lengthAdjust="spacingAndGlyphs">e</text>
<text x="521.93" y="104.70" font-size="23.50" text-anchor="start" textLength="15.47" lengthAdjust="spacingAndGlyphs">T</text><text x="537.34" y="104.70" font-size="23.50" text-anchor="start" textLength="13.81" lengthAdjust="spacingAndGlyphs">S</text>
<text x="558.00" y="104.70" font-size="23.50" text-anchor="start" textLength="15.29" lengthAdjust="spacingAndGlyphs">V</text><text x="573.87" y="104.70" font-size="23.50" text-anchor="start" textLength="11.30" lengthAdjust="spacingAndGlyphs">a</text><text x="587.79" y="104.70" font-size="23.50" text-anchor="start" textLength="5.13" lengthAdjust="spacingAndGlyphs">l</text><text x="593.83" y="104.70" font-size="23.50" text-anchor="start" textLength="13.54" lengthAdjust="spacingAndGlyphs">u</text><text x="608.02" y="104.70" font-size="23.50" text-anchor="start" textLength="13.57" lengthAdjust="spacingAndGlyphs">e</text>
<text x="628.16" y="104.70" font-size="23.50" text-anchor="start" textLength="13.83" lengthAdjust="spacingAndGlyphs">o</text><text x="642.32" y="104.70" font-size="23.50" text-anchor="start" textLength="8.53" lengthAdjust="spacingAndGlyphs">f</text>
<text x="657.86" y="104.70" font-size="23.50" text-anchor="start" textLength="15.03" lengthAdjust="spacingAndGlyphs">A</text><text x="673.30" y="104.70" font-size="23.50" text-anchor="start" textLength="11.22" lengthAdjust="spacingAndGlyphs">c</text><text x="685.47" y="104.70" font-size="23.50" text-anchor="start" textLength="8.30" lengthAdjust="spacingAndGlyphs">t</text><text x="694.66" y="104.70" font-size="23.50" text-anchor="start" textLength="5.08" lengthAdjust="spacingAndGlyphs">i</text><text x="700.88" y="104.70" font-size="23.50" text-anchor="start" textLength="12.07" lengthAdjust="spacingAndGlyphs">v</text><text x="713.74" y="104.70" font-size="23.50" text-anchor="start" textLength="13.43" lengthAdjust="spacingAndGlyphs">e</text>
<text x="733.89" y="104.70" font-size="23.50" text-anchor="start" textLength="13.36" lengthAdjust="spacingAndGlyphs">S</text><text x="747.73" y="104.70" font-size="23.50" text-anchor="start" textLength="8.34" lengthAdjust="spacingAndGlyphs">t</text><text x="756.88" y="104.70" font-size="23.50" text-anchor="start" textLength="11.24" lengthAdjust="spacingAndGlyphs">a</text><text x="770.31" y="104.70" font-size="23.50" text-anchor="start" textLength="8.34" lengthAdjust="spacingAndGlyphs">t</text><text x="779.18" y="104.70" font-size="23.50" text-anchor="start" textLength="13.50" lengthAdjust="spacingAndGlyphs">e</text>
<text x="521.93" y="137.70" font-size="23.50" text-anchor="start" textLength="15.47" lengthAdjust="spacingAndGlyphs">T</text><text x="537.34" y="137.70" font-size="23.50" text-anchor="start" textLength="13.81" lengthAdjust="spacingAndGlyphs">S</text>
<text x="558.00" y="137.70" font-size="23.50" text-anchor="start" textLength="15.29" lengthAdjust="spacingAndGlyphs">V</text><text x="573.87" y="137.70" font-size="23.50" text-anchor="start" textLength="11.30" lengthAdjust="spacingAndGlyphs">a</text><text x="587.79" y="137.70" font-size="23.50" text-anchor="start" textLength="5.13" lengthAdjust="spacingAndGlyphs">l</text><text x="593.83" y="137.70" font-size="23.50" text-anchor="start" textLength="13.54" lengthAdjust="spacingAndGlyphs">u</text><text x="608.02" y="137.70" font-size="23.50" text-anchor="start" textLength="13.57" lengthAdjust="spacingAndGlyphs">e</text>
<text x="628.16" y="137.70" font-size="23.50" text-anchor="start" textLength="13.83" lengthAdjust="spacingAndGlyphs">o</text><text x="642.32" y="137.70" font-size="23.50" text-anchor="start" textLength="8.53" lengthAdjust="spacingAndGlyphs">f</text>
<text x="657.17" y="137.70" font-size="23.50" text-anchor="start" textLength="16.92" lengthAdjust="spacingAndGlyphs">Q</text><text x="674.61" y="137.70" font-size="23.50" text-anchor="start" textLength="13.19" lengthAdjust="spacingAndGlyphs">u</text><text x="688.79" y="137.70" font-size="23.50" text-anchor="start" textLength="5.00" lengthAdjust="spacingAndGlyphs">i</text><text x="694.54" y="137.70" font-size="23.50" text-anchor="start" textLength="13.21" lengthAdjust="spacingAndGlyphs">e</text><text x="708.47" y="137.70" font-size="23.50" text-anchor="start" textLength="10.54" lengthAdjust="spacingAndGlyphs">s</text><text x="719.61" y="137.70" font-size="23.50" text-anchor="start" textLength="11.04" lengthAdjust="spacingAndGlyphs">c</text><text x="731.63" y="137.70" font-size="23.50" text-anchor="start" textLength="13.21" lengthAdjust="spacingAndGlyphs">e</text><text x="745.38" y="137.70" font-size="23.50" text-anchor="start" textLength="13.19" lengthAdjust="spacingAndGlyphs">n</text><text x="759.05" y="137.70" font-size="23.50" text-anchor="start" textLength="8.17" lengthAdjust="spacingAndGlyphs">t</text>
<text x="776.68" y="137.70" font-size="23.50" text-anchor="start" textLength="13.45" lengthAdjust="spacingAndGlyphs">S</text><text x="790.62" y="137.70" font-size="23.50" text-anchor="start" textLength="8.40" lengthAdjust="spacingAndGlyphs">t</text><text x="799.84" y="137.70" font-size="23.50" text-anchor="start" textLength="11.32" lengthAdjust="spacingAndGlyphs">a</text><text x="813.36" y="137.70" font-size="23.50" text-anchor="start" textLength="8.40" lengthAdjust="spacingAndGlyphs">t</text><text x="822.29" y="137.70" font-size="23.50" text-anchor="start" textLength="13.59" lengthAdjust="spacingAndGlyphs">e</text>
</svg></body></html>
